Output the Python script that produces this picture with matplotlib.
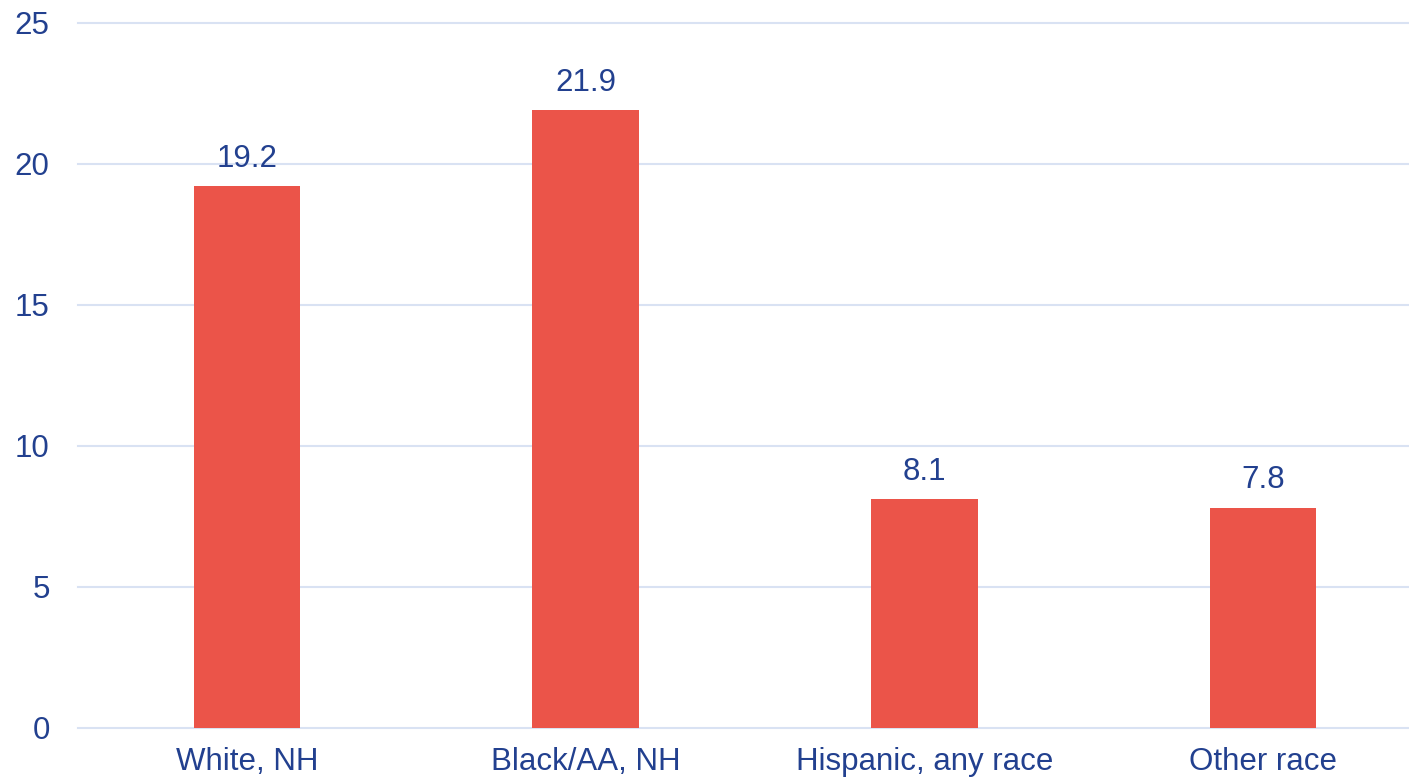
import matplotlib
matplotlib.use("Agg")
import matplotlib.pyplot as plt

categories = ["White, NH", "Black/AA, NH", "Hispanic, any race", "Other race"]
values = [19.2, 21.9, 8.1, 7.8]
yticks = [0, 5, 10, 15, 20, 25]

text_color = "#22408f"
bar_color = "#eb5449"
grid_color = "#d9e2f3"

plt.rcParams["font.family"] = ["Liberation Sans", "DejaVu Sans"]

fig = plt.figure(figsize=(14.09, 7.84), dpi=100)
ax = fig.add_axes([77.5 / 1409, 56.5 / 784, 1355 / 1409, 704.5 / 784])

x = list(range(len(categories)))
bars = ax.bar(x, values, width=0.315, color=bar_color, zorder=3)
ax.bar_label(bars, labels=[f"{v:.1f}" for v in values], padding=9,
             fontsize=22.5, color=text_color)

ax.set_xlim(-0.5, len(categories) - 0.5)
ax.set_ylim(0, 25)
ax.set_yticks(yticks)
ax.set_yticklabels([str(t) for t in yticks])
ax.set_xticks(x)
ax.set_xticklabels(categories)

ax.tick_params(axis="y", length=0, pad=20, labelsize=22.5, labelcolor=text_color)
ax.tick_params(axis="x", length=0, pad=14, labelsize=22.5, labelcolor=text_color)

ax.grid(axis="y", color=grid_color, linewidth=1.5, zorder=0)
ax.set_axisbelow(True)
for line in ax.get_ygridlines():
    line.set_clip_on(False)
for spine in ax.spines.values():
    spine.set_visible(False)

fig.savefig("out.png", dpi=100)
